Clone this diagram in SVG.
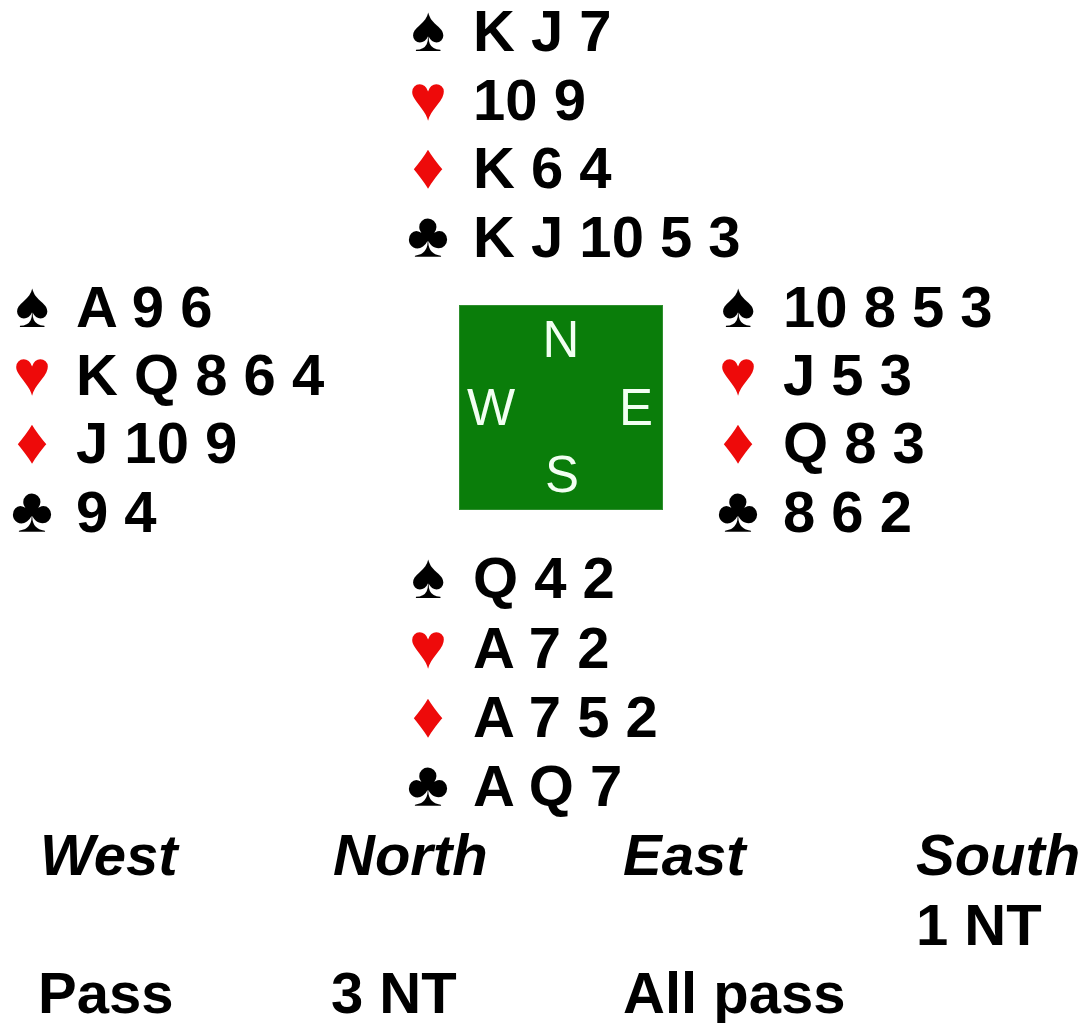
<svg xmlns="http://www.w3.org/2000/svg" width="1089" height="1023" viewBox="0 0 1089 1023">
<style>
.c{font-family:"Liberation Sans",Arial,sans-serif;font-weight:bold;font-size:58px;fill:#000}
.s{font-family:"Liberation Sans",Arial,"DejaVu Sans",sans-serif;font-size:64px;text-anchor:middle}
.k{fill:#000}.r{fill:#ee0a0a}
.h{font-family:"Liberation Sans",Arial,sans-serif;font-weight:bold;font-style:italic;font-size:58px;fill:#000}
.d{font-family:"Liberation Sans",Arial,sans-serif;font-size:51px;fill:#f2fff2;text-anchor:middle}
</style>
<rect width="1089" height="1023" fill="#fff"/>
<g id="north">
<text class="s k" x="428" y="51">♠</text><text class="c" x="473" y="51">K J 7</text>
<text class="s r" x="428" y="120">♥</text><text class="c" x="473" y="120">10 9</text>
<text class="s r" x="428" y="188">♦</text><text class="c" x="473" y="188">K 6 4</text>
<text class="s k" x="428" y="257">♣</text><text class="c" x="473" y="257">K J 10 5 3</text>
</g>
<g id="west">
<text class="s k" x="32" y="327">♠</text><text class="c" x="76" y="327">A 9 6</text>
<text class="s r" x="32" y="395">♥</text><text class="c" x="76" y="395">K Q 8 6 4</text>
<text class="s r" x="32" y="463">♦</text><text class="c" x="76" y="463">J 10 9</text>
<text class="s k" x="32" y="532">♣</text><text class="c" x="76" y="532">9 4</text>
</g>
<g id="east">
<text class="s k" x="738" y="327">♠</text><text class="c" x="783" y="327">10 8 5 3</text>
<text class="s r" x="738" y="395">♥</text><text class="c" x="783" y="395">J 5 3</text>
<text class="s r" x="738" y="463">♦</text><text class="c" x="783" y="463">Q 8 3</text>
<text class="s k" x="738" y="532">♣</text><text class="c" x="783" y="532">8 6 2</text>
</g>
<g id="south">
<text class="s k" x="428" y="598">♠</text><text class="c" x="473" y="598">Q 4 2</text>
<text class="s r" x="428" y="668">♥</text><text class="c" x="473" y="668">A 7 2</text>
<text class="s r" x="428" y="737">♦</text><text class="c" x="473" y="737">A 7 5 2</text>
<text class="s k" x="428" y="806">♣</text><text class="c" x="473" y="806">A Q 7</text>
</g>
<g id="compass">
<rect x="459.5" y="305.5" width="203" height="204" fill="#0a7d0a" stroke="#2f8f2f" stroke-width="1"/>
<text class="d" x="561" y="357">N</text>
<text class="d" x="491" y="425">W</text>
<text class="d" x="636" y="425">E</text>
<text class="d" x="562" y="492">S</text>
</g>
<g id="auction">
<text class="h" x="40" y="875">West</text>
<text class="h" x="333" y="875">North</text>
<text class="h" x="623" y="875">East</text>
<text class="h" x="916" y="875">South</text>
<text class="c" x="916" y="945">1 NT</text>
<text class="c" x="38" y="1013">Pass</text>
<text class="c" x="331" y="1013">3 NT</text>
<text class="c" x="623" y="1013">All pass</text>
</g>
</svg>
